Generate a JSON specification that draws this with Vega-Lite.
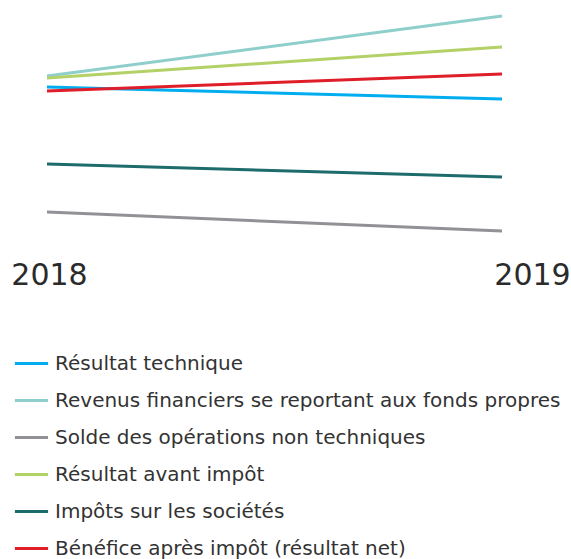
{
  "$schema": "https://vega.github.io/schema/vega-lite/v6.json",
  "autosize": {"type": "none"},
  "width": 455,
  "height": 240,
  "padding": {"left": 47, "top": 0, "right": 69, "bottom": 319},
  "background": "white",
  "config": {"view": {"stroke": null}, "font": "DejaVu Sans"},
  "data": {
    "values": [
      {"serie": "Résultat technique", "annee": 2018, "valeur": 153},
      {"serie": "Résultat technique", "annee": 2019, "valeur": 141},
      {"serie": "Revenus financiers se reportant aux fonds propres", "annee": 2018, "valeur": 164},
      {"serie": "Revenus financiers se reportant aux fonds propres", "annee": 2019, "valeur": 224},
      {"serie": "Solde des opérations non techniques", "annee": 2018, "valeur": 28},
      {"serie": "Solde des opérations non techniques", "annee": 2019, "valeur": 9},
      {"serie": "Résultat avant impôt", "annee": 2018, "valeur": 162},
      {"serie": "Résultat avant impôt", "annee": 2019, "valeur": 193},
      {"serie": "Impôts sur les sociétés", "annee": 2018, "valeur": 76},
      {"serie": "Impôts sur les sociétés", "annee": 2019, "valeur": 63},
      {"serie": "Bénéfice après impôt (résultat net)", "annee": 2018, "valeur": 149},
      {"serie": "Bénéfice après impôt (résultat net)", "annee": 2019, "valeur": 166}
    ]
  },
  "mark": {"type": "line", "strokeWidth": 3},
  "encoding": {
    "x": {
      "field": "annee", "type": "quantitative",
      "scale": {"domain": [2018, 2019], "nice": false, "zero": false},
      "axis": {
        "title": null, "domain": false, "ticks": false, "grid": false,
        "values": [2018, 2019], "format": "d",
        "labelFontSize": 30, "labelColor": "#2b2b2b", "labelFont": "DejaVu Sans",
        "labelPadding": 20,
        "labelFlush": false,
        "labelAlign": "center",
        "labelOffset": {"condition": {"test": "datum.value == 2019", "value": 30}, "value": 2}
      }
    },
    "y": {
      "field": "valeur", "type": "quantitative",
      "scale": {"domain": [0, 240], "nice": false},
      "axis": null
    },
    "color": {
      "field": "serie", "type": "nominal",
      "scale": {
        "domain": ["Résultat technique", "Revenus financiers se reportant aux fonds propres", "Solde des opérations non techniques", "Résultat avant impôt", "Impôts sur les sociétés", "Bénéfice après impôt (résultat net)"],
        "range": ["#00aeef", "#8ecfcc", "#929196", "#b3d166", "#1d6b6b", "#e01e2a"]
      },
      "legend": {
        "title": null, "orient": "none", "legendX": -34, "legendY": 345,
        "symbolType": "stroke", "symbolSize": 1100, "symbolStrokeWidth": 3,
        "labelFontSize": 20, "labelColor": "#333333", "labelFont": "DejaVu Sans",
        "labelOffset": 5, "rowPadding": 8, "labelLimit": 600
      }
    }
  }
}
